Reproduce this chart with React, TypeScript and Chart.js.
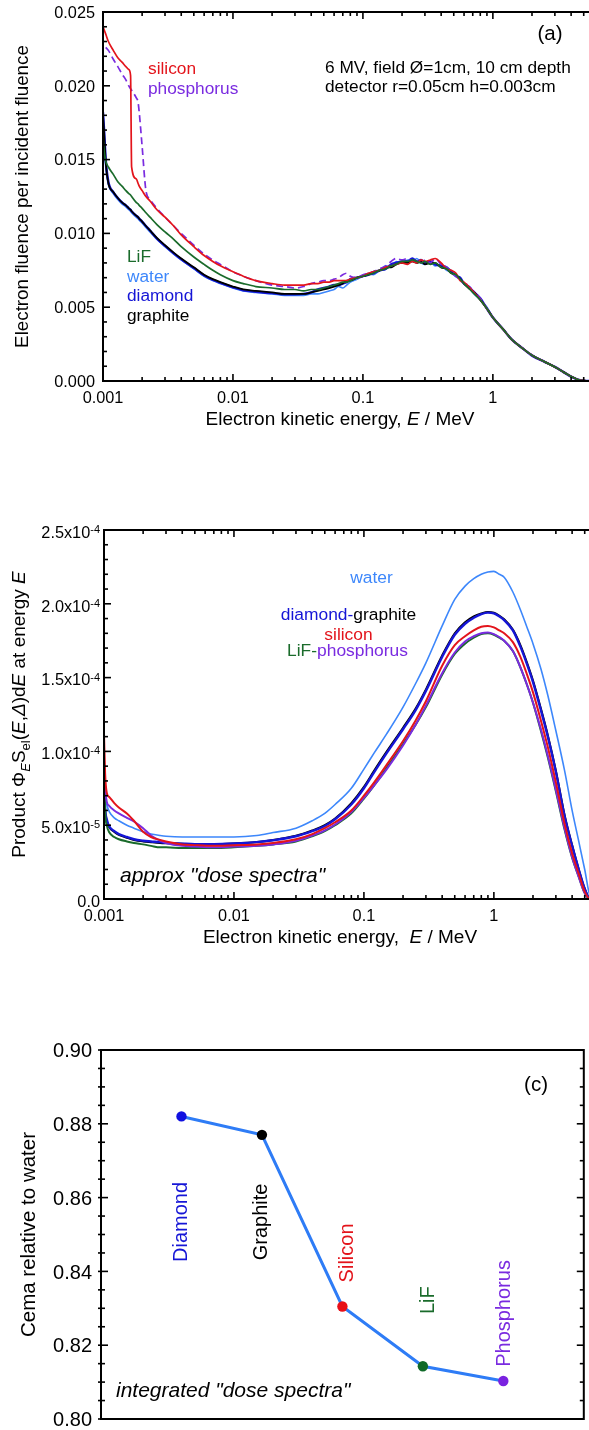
import React, { useEffect, useRef } from "react";
import { Chart, registerables } from "chart.js";
Chart.register(...registerables);

const FAMILY = '"Liberation Sans", Arial, Helvetica, sans-serif';
const font = (size: number, italic = false) => `${italic ? "italic " : ""}${size}px ${FAMILY}`;

const COLORS = {
  silicon: "#e3141b",
  phosphorus: "#7a2be0",
  lif: "#1a6b2b",
  water: "#3d87fb",
  diamond: "#1515d6",
  graphite: "#000000",
  cemaLine: "#2e7cf6",
};

// ---------------- Panel (a): electron fluence spectra ----------------
const ENERGY_A = [
  0.001, 0.00102, 0.00105, 0.0011, 0.0012, 0.0013, 0.0014, 0.0015, 0.00158, 0.00163,
  0.00166, 0.0018, 0.00186, 0.0019, 0.002, 0.00214, 0.0023, 0.0026, 0.003, 0.0035,
  0.004, 0.005, 0.006, 0.007, 0.008, 0.01, 0.012, 0.015, 0.02, 0.025,
  0.03, 0.035, 0.04, 0.045, 0.05, 0.055, 0.06, 0.065, 0.07, 0.075,
  0.08, 0.09, 0.1, 0.11, 0.12, 0.135, 0.15, 0.165, 0.18, 0.2,
  0.22, 0.24, 0.26, 0.28, 0.3, 0.33, 0.36, 0.4, 0.44, 0.48,
  0.52, 0.56, 0.6, 0.65, 0.7, 0.8, 0.9, 1.0, 1.2, 1.4,
  1.7, 2.0, 2.5, 3.0, 3.5, 4.0, 4.5, 5.0, 5.5, 6.0,
];
const GRAPHITE_A = [
  0.0180, 0.0168, 0.0148, 0.0134, 0.0128, 0.0124, 0.0121, 0.0119, 0.0117, 0.0116,
  0.0115, 0.0112, 0.0111, 0.0110, 0.0108, 0.0105, 0.0102, 0.0097, 0.0092, 0.0087,
  0.0083, 0.0077, 0.0072, 0.0069, 0.0067, 0.0064, 0.0062, 0.0061, 0.0060, 0.0059,
  0.0059, 0.0059, 0.0060, 0.0061, 0.0062, 0.0063, 0.0064, 0.0065, 0.0066, 0.0068,
  0.0068, 0.0070, 0.0071, 0.0072, 0.0074, 0.0075, 0.0077, 0.0077, 0.0079, 0.0080,
  0.0080, 0.0081, 0.0080, 0.0081, 0.0079, 0.0080, 0.0080, 0.0077, 0.0076, 0.0073,
  0.0072, 0.0069, 0.0066, 0.0063, 0.0061, 0.0055, 0.0049, 0.0043, 0.0035, 0.0028,
  0.0022, 0.00175, 0.0013, 0.00095, 0.0006, 0.0003, 0.0001, 0.00002, 0.0, 0.0,
];
const DIAMOND_A = [
  0.0182, 0.0170, 0.0150, 0.0135, 0.0128, 0.0124, 0.0121, 0.0119, 0.0117, 0.0116,
  0.0115, 0.0112, 0.0111, 0.0110, 0.0108, 0.0105, 0.0102, 0.00965, 0.00915, 0.00865,
  0.00825, 0.00765, 0.00715, 0.00685, 0.00665, 0.00635, 0.00615, 0.00605, 0.00595, 0.00588,
  0.00588, 0.0059, 0.0060, 0.0062, 0.0063, 0.0064, 0.0065, 0.0065, 0.0066, 0.0067,
  0.0069, 0.0070, 0.0071, 0.0072, 0.0073, 0.0075, 0.0076, 0.0079, 0.0080, 0.0081,
  0.0081, 0.0083, 0.0081, 0.0082, 0.0080, 0.0081, 0.0079, 0.0078, 0.0077, 0.0074,
  0.0071, 0.0070, 0.0066, 0.0064, 0.0061, 0.0056, 0.0049, 0.0043, 0.0035, 0.0028,
  0.0022, 0.00172, 0.0013, 0.00096, 0.0006, 0.0003, 0.0001, 0.00002, 0.0, 0.0,
];
const WATER_A = [
  0.0176, 0.0162, 0.0145, 0.0133, 0.0127, 0.0123, 0.0120, 0.0118, 0.0116, 0.0115,
  0.0114, 0.0111, 0.0110, 0.0109, 0.0107, 0.0104, 0.0101, 0.0096, 0.0091, 0.0086,
  0.0082, 0.0076, 0.0071, 0.0068, 0.0066, 0.0063, 0.0061, 0.0060, 0.0059, 0.0058,
  0.0058, 0.0058, 0.0059, 0.0059, 0.0060, 0.0061, 0.0062, 0.0064, 0.0063, 0.0065,
  0.0067, 0.0069, 0.0071, 0.0073, 0.0072, 0.0075, 0.0078, 0.0077, 0.0081, 0.0080,
  0.0082, 0.0081, 0.0083, 0.0080, 0.0079, 0.0081, 0.0078, 0.0079, 0.0075, 0.0074,
  0.0071, 0.0069, 0.0066, 0.0064, 0.0060, 0.0055, 0.0050, 0.0043, 0.0035, 0.0028,
  0.0022, 0.00176, 0.0013, 0.00094, 0.0006, 0.0003, 0.0001, 0.00002, 0.0, 0.0,
];
const LIF_A = [
  0.0165, 0.0156, 0.0149, 0.0145, 0.0140, 0.0135, 0.0132, 0.0129, 0.0127, 0.0126,
  0.0125, 0.0121, 0.0120, 0.0119, 0.0117, 0.0114, 0.0111, 0.0106, 0.0101, 0.0096,
  0.0091, 0.0084, 0.0079, 0.0075, 0.0072, 0.0068, 0.0066, 0.0064, 0.0063, 0.0062,
  0.0062, 0.0061, 0.0062, 0.0062, 0.0063, 0.0064, 0.0065, 0.0066, 0.0067, 0.0067,
  0.0068, 0.0070, 0.0071, 0.0072, 0.0073, 0.0075, 0.0076, 0.0078, 0.0079, 0.0081,
  0.0081, 0.0082, 0.0081, 0.0080, 0.0081, 0.0079, 0.0080, 0.0077, 0.0076, 0.0073,
  0.0072, 0.0069, 0.0066, 0.0063, 0.0060, 0.0055, 0.0049, 0.0043, 0.0035, 0.0028,
  0.0022, 0.00175, 0.0013, 0.00095, 0.0006, 0.0003, 0.0001, 0.00002, 0.0, 0.0,
];
const SILICON_A = [
  0.0240, 0.0238, 0.0235, 0.0230, 0.0224, 0.0219, 0.0216, 0.0213, 0.0211, 0.0207,
  0.0145, 0.0137, 0.0134, 0.0132, 0.0129, 0.0125, 0.0122, 0.0116, 0.0111, 0.0105,
  0.0099, 0.0091, 0.0085, 0.0081, 0.0078, 0.0074, 0.0071, 0.0068, 0.0066, 0.0065,
  0.0065, 0.0065, 0.0066, 0.0066, 0.0067, 0.0067, 0.0068, 0.0068, 0.0068, 0.0068,
  0.0069, 0.0070, 0.0071, 0.0073, 0.0074, 0.0075, 0.0077, 0.0078, 0.0079, 0.0080,
  0.0079, 0.0081, 0.0080, 0.0082, 0.0081, 0.0082, 0.0083, 0.0080, 0.0076, 0.0075,
  0.0073, 0.0068, 0.0067, 0.0064, 0.0061, 0.0055, 0.0049, 0.0043, 0.0035, 0.0028,
  0.0022, 0.00175, 0.0013, 0.00095, 0.0006, 0.0003, 0.0001, 0.00002, 0.0, 0.0,
];
const PHOSPHORUS_A = [
  null, null, 0.0226, 0.0224, 0.0218, 0.0213, 0.0208, 0.0204, 0.0200, 0.0198,
  0.0197, 0.0192, 0.0189, 0.0182, 0.0159, 0.0129, 0.0123, 0.0117, 0.0111, 0.0105,
  0.0100, 0.0092, 0.0086, 0.0082, 0.0079, 0.0074, 0.0071, 0.0068, 0.0065, 0.0064,
  0.0063, 0.0064, 0.0066, 0.0067, 0.0068, 0.0068, 0.0069, 0.0070, 0.0072, 0.0073,
  0.0071, 0.0070, 0.0072, 0.0073, 0.0074, 0.0076, 0.0078, 0.0081, 0.0083, 0.0082,
  0.0083, 0.0081, 0.0082, 0.0080, 0.0082, 0.0080, 0.0083, 0.0079, 0.0077, 0.0073,
  0.0071, 0.0068, 0.0066, 0.0065, 0.0061, 0.0056, 0.0049, 0.0043, 0.0035, 0.0028,
  0.0022, 0.00176, 0.0013, 0.00095, 0.0006, 0.0003, 0.0001, 0.00002, 0.0, 0.0,
];

// ---------------- Panel (b): product spectra ----------------
const ENERGY_B = [
  0.001, 0.00102, 0.00105, 0.0011, 0.0012, 0.0013, 0.0015, 0.0017, 0.002, 0.0023,
  0.0027, 0.003, 0.004, 0.005, 0.007, 0.01, 0.015, 0.02, 0.03, 0.04,
  0.05, 0.06, 0.08, 0.1, 0.12, 0.15, 0.2, 0.25, 0.3, 0.4,
  0.5, 0.6, 0.7, 0.8, 0.9, 1.0, 1.1, 1.2, 1.4, 1.6,
  1.8, 2.0, 2.3, 2.6, 3.0, 3.5, 4.0, 4.5, 5.0, 5.5, 6.0,
];
const WATER_B = [
  9.0e-5, 7.0e-5, 6.4e-5, 5.9e-5, 5.5e-5, 5.3e-5, 5.0e-5, 4.8e-5, 4.55e-5, 4.4e-5,
  4.3e-5, 4.25e-5, 4.2e-5, 4.2e-5, 4.2e-5, 4.2e-5, 4.3e-5, 4.5e-5, 4.8e-5, 5.3e-5,
  5.8e-5, 6.4e-5, 7.5e-5, 8.8e-5, 9.9e-5, 1.12e-4, 1.30e-4, 1.46e-4, 1.60e-4, 1.85e-4,
  2.03e-4, 2.12e-4, 2.17e-4, 2.20e-4, 2.215e-4, 2.22e-4, 2.20e-4, 2.18e-4, 2.08e-4, 1.96e-4,
  1.84e-4, 1.73e-4, 1.56e-4, 1.38e-4, 1.14e-4, 8.7e-5, 6.0e-5, 3.9e-5, 2.0e-5, 2e-6, 0,
];
const DIAMOND_B = [
  8.5e-5, 6.2e-5, 5.4e-5, 4.9e-5, 4.6e-5, 4.4e-5, 4.2e-5, 4.05e-5, 3.95e-5, 3.9e-5,
  3.85e-5, 3.8e-5, 3.75e-5, 3.72e-5, 3.72e-5, 3.76e-5, 3.85e-5, 3.98e-5, 4.25e-5, 4.6e-5,
  4.95e-5, 5.4e-5, 6.4e-5, 7.5e-5, 8.6e-5, 9.9e-5, 1.15e-4, 1.28e-4, 1.41e-4, 1.64e-4,
  1.79e-4, 1.865e-4, 1.905e-4, 1.93e-4, 1.94e-4, 1.935e-4, 1.915e-4, 1.89e-4, 1.82e-4, 1.71e-4,
  1.59e-4, 1.47e-4, 1.28e-4, 1.10e-4, 8.6e-5, 5.6e-5, 3.6e-5, 2.0e-5, 7e-6, 0, 0,
];
const GRAPHITE_B = [
  8.0e-5, 6.0e-5, 5.3e-5, 4.85e-5, 4.55e-5, 4.35e-5, 4.15e-5, 4.0e-5, 3.9e-5, 3.85e-5,
  3.8e-5, 3.78e-5, 3.74e-5, 3.72e-5, 3.72e-5, 3.76e-5, 3.86e-5, 4.0e-5, 4.28e-5, 4.64e-5,
  5.0e-5, 5.45e-5, 6.5e-5, 7.6e-5, 8.7e-5, 1.0e-4, 1.16e-4, 1.29e-4, 1.42e-4, 1.65e-4,
  1.80e-4, 1.875e-4, 1.915e-4, 1.935e-4, 1.945e-4, 1.94e-4, 1.92e-4, 1.895e-4, 1.825e-4, 1.72e-4,
  1.60e-4, 1.48e-4, 1.29e-4, 1.11e-4, 8.7e-5, 5.7e-5, 3.65e-5, 2.0e-5, 7e-6, 0, 0,
];
const SILICON_B = [
  1.12e-4, 8.5e-5, 7.2e-5, 6.9e-5, 6.5e-5, 6.2e-5, 5.8e-5, 5.3e-5, 4.55e-5, 4.2e-5,
  4.0e-5, 3.9e-5, 3.7e-5, 3.65e-5, 3.6e-5, 3.65e-5, 3.7e-5, 3.8e-5, 4.05e-5, 4.4e-5,
  4.8e-5, 5.2e-5, 6.0e-5, 7.0e-5, 7.9e-5, 9.1e-5, 1.07e-4, 1.21e-4, 1.34e-4, 1.58e-4,
  1.72e-4, 1.78e-4, 1.82e-4, 1.845e-4, 1.85e-4, 1.84e-4, 1.82e-4, 1.80e-4, 1.74e-4, 1.64e-4,
  1.52e-4, 1.40e-4, 1.21e-4, 1.03e-4, 7.9e-5, 5.1e-5, 3.1e-5, 1.7e-5, 5e-6, 0, 0,
];
const LIF_B = [
  9.5e-5, 6.0e-5, 5.0e-5, 4.5e-5, 4.2e-5, 4.05e-5, 3.9e-5, 3.8e-5, 3.7e-5, 3.6e-5,
  3.5e-5, 3.5e-5, 3.45e-5, 3.45e-5, 3.45e-5, 3.5e-5, 3.6e-5, 3.7e-5, 3.9e-5, 4.25e-5,
  4.6e-5, 5.0e-5, 5.8e-5, 6.8e-5, 7.7e-5, 8.9e-5, 1.05e-4, 1.18e-4, 1.30e-4, 1.52e-4,
  1.66e-4, 1.73e-4, 1.77e-4, 1.795e-4, 1.80e-4, 1.79e-4, 1.77e-4, 1.75e-4, 1.68e-4, 1.57e-4,
  1.45e-4, 1.33e-4, 1.14e-4, 9.6e-5, 7.3e-5, 4.7e-5, 2.8e-5, 1.5e-5, 4e-6, 0, 0,
];
const PHOSPHORUS_B = [
  9.0e-5, 7.5e-5, 6.6e-5, 6.3e-5, 6.0e-5, 5.8e-5, 5.5e-5, 5.25e-5, 4.8e-5, 4.3e-5,
  3.95e-5, 3.8e-5, 3.6e-5, 3.55e-5, 3.5e-5, 3.55e-5, 3.6e-5, 3.7e-5, 3.95e-5, 4.3e-5,
  4.65e-5, 5.05e-5, 5.9e-5, 6.85e-5, 7.7e-5, 8.8e-5, 1.04e-4, 1.18e-4, 1.31e-4, 1.53e-4,
  1.67e-4, 1.745e-4, 1.78e-4, 1.80e-4, 1.805e-4, 1.795e-4, 1.775e-4, 1.75e-4, 1.68e-4, 1.57e-4,
  1.45e-4, 1.33e-4, 1.15e-4, 9.7e-5, 7.4e-5, 4.8e-5, 2.85e-5, 1.5e-5, 4e-6, 0, 0,
];

// ---------------- Panel (c): integrated cema ----------------
const MATERIALS_C = ["Diamond", "Graphite", "Silicon", "LiF", "Phosphorus"];
const CEMA_C = [0.882, 0.877, 0.8305, 0.8143, 0.8103];
const POINT_COLORS_C = ["#1010e0", "#000000", "#e81018", "#0f6a28", "#7a22e0"];
const LABEL_COLORS_C = [COLORS.diamond, "#000000", COLORS.silicon, COLORS.lif, COLORS.phosphorus];

// tick labels
const X_TICK_VALUES = [0.001, 0.01, 0.1, 1];
const X_TICK_LABELS = ["0.001", "0.01", "0.1", "1"];
const Y_TICK_VALUES_A = [0, 0.005, 0.01, 0.015, 0.02, 0.025];
const Y_TICK_LABELS_A = ["0.000", "0.005", "0.010", "0.015", "0.020", "0.025"];
const Y_TICK_VALUES_B = [0, 5e-5, 1e-4, 1.5e-4, 2e-4, 2.5e-4];
const Y_TICK_MANT_B = ["0.0", "5.0x10", "1.0x10", "1.5x10", "2.0x10", "2.5x10"];
const Y_TICK_EXP_B = ["", "-5", "-4", "-4", "-4", "-4"];
const Y_TICK_VALUES_C = [0.8, 0.82, 0.84, 0.86, 0.88, 0.9];
const Y_TICK_LABELS_C = ["0.80", "0.82", "0.84", "0.86", "0.88", "0.90"];

// ---------------- drawing helpers ----------------
type Seg = { t: string; size: number; italic?: boolean; color?: string; dy?: number };

function drawRich(ctx: any, segs: Seg[], x: number, y: number, align: string, color = "#000") {
  ctx.textBaseline = "alphabetic";
  ctx.textAlign = "left";
  const widths = segs.map((s) => {
    ctx.font = font(s.size, s.italic);
    return ctx.measureText(s.t).width;
  });
  const total = widths.reduce((a, b) => a + b, 0);
  let cx = align === "left" ? x : align === "center" ? x - total / 2 : x - total;
  segs.forEach((s, i) => {
    ctx.font = font(s.size, s.italic);
    ctx.fillStyle = s.color ?? color;
    ctx.fillText(s.t, cx, y + (s.dy ?? 0));
    cx += widths[i];
  });
}

function drawRotated(ctx: any, segs: Seg[], baselineX: number, centerY: number, color = "#000") {
  ctx.save();
  ctx.translate(baselineX, centerY);
  ctx.rotate(-Math.PI / 2);
  drawRich(ctx, segs, 0, 0, "center", color);
  ctx.restore();
}

function line(ctx: any, x1: number, y1: number, x2: number, y2: number) {
  ctx.beginPath();
  ctx.moveTo(x1, y1);
  ctx.lineTo(x2, y2);
  ctx.stroke();
}

function drawBox(ctx: any, a: any) {
  ctx.strokeStyle = "#000";
  ctx.lineWidth = 2;
  ctx.strokeRect(a.left, a.top, a.right - a.left, a.bottom - a.top);
}

function logTicks(max: number) {
  const out: { v: number; major: boolean }[] = [];
  for (const e of [-3, -2, -1, 0]) {
    for (let m = 1; m <= 9; m++) {
      const v = Number((m * Math.pow(10, e)).toPrecision(2));
      if (v <= max) out.push({ v, major: m === 1 });
    }
  }
  return out;
}

function drawLogXTicks(ctx: any, chart: any) {
  const a = chart.chartArea;
  const xs = chart.scales.x;
  ctx.strokeStyle = "#000";
  ctx.lineWidth = 1.6;
  for (const t of logTicks(xs.max)) {
    const px = xs.getPixelForValue(t.v);
    const len = t.major ? 7 : 4;
    line(ctx, px, a.bottom, px, a.bottom - len);
    line(ctx, px, a.top, px, a.top + len);
  }
}

function drawYTicks(ctx: any, chart: any, minor: number, ratio: number, cross: boolean, right: boolean) {
  const a = chart.chartArea;
  const ys = chart.scales.y;
  ctx.strokeStyle = "#000";
  ctx.lineWidth = 1.6;
  const n = Math.round((ys.max - ys.min) / minor);
  for (let i = 0; i <= n; i++) {
    const py = ys.getPixelForValue(ys.min + i * minor);
    const major = i % ratio === 0;
    const len = major ? 7 : 4;
    line(ctx, a.left - (cross ? 3 : 0), py, a.left + len, py);
    if (right) line(ctx, a.right, py, a.right - len, py);
  }
}

function xAxisLabels(ctx: any, chart: any, gap: string) {
  const xs = chart.scales.x;
  const a = chart.chartArea;
  X_TICK_VALUES.forEach((v, i) => {
    drawRich(ctx, [{ t: X_TICK_LABELS[i], size: 16.3 }], xs.getPixelForValue(v), a.bottom + 22, "center");
  });
  drawRich(
    ctx,
    [
      { t: "Electron kinetic energy," + gap, size: 19 },
      { t: "E", size: 19, italic: true },
      { t: " / MeV", size: 19 },
    ],
    340,
    a.bottom + 44,
    "center"
  );
}

const decorA = {
  id: "decorA",
  afterDraw(chart: any) {
    const ctx = chart.ctx;
    const a = chart.chartArea;
    const ys = chart.scales.y;
    ctx.save();
    drawBox(ctx, a);
    drawLogXTicks(ctx, chart);
    drawYTicks(ctx, chart, 0.001, 5, false, false);
    Y_TICK_VALUES_A.forEach((v, i) => {
      drawRich(ctx, [{ t: Y_TICK_LABELS_A[i], size: 16.3 }], a.left - 8, ys.getPixelForValue(v) + 5.8, "right");
    });
    xAxisLabels(ctx, chart, " ");
    drawRotated(ctx, [{ t: "Electron fluence per incident fluence", size: 18.8 }], 28, (a.top + a.bottom) / 2);
    const s = 17.3;
    drawRich(ctx, [{ t: "(a)", size: 20.5 }], 550, 40, "center");
    drawRich(ctx, [{ t: "6 MV, field Ø=1cm, 10 cm depth", size: s }], 325, 73, "left");
    drawRich(ctx, [{ t: "detector r=0.05cm h=0.003cm", size: s }], 325, 92, "left");
    drawRich(ctx, [{ t: "silicon", size: s, color: COLORS.silicon }], 148, 74, "left");
    drawRich(ctx, [{ t: "phosphorus", size: s, color: COLORS.phosphorus }], 148, 94, "left");
    drawRich(ctx, [{ t: "LiF", size: s, color: COLORS.lif }], 127, 262, "left");
    drawRich(ctx, [{ t: "water", size: s, color: COLORS.water }], 127, 281.5, "left");
    drawRich(ctx, [{ t: "diamond", size: s, color: COLORS.diamond }], 127, 301, "left");
    drawRich(ctx, [{ t: "graphite", size: s, color: "#000" }], 127, 320.5, "left");
    ctx.restore();
  },
};

const decorB = {
  id: "decorB",
  afterDraw(chart: any) {
    const ctx = chart.ctx;
    const a = chart.chartArea;
    const ys = chart.scales.y;
    ctx.save();
    drawBox(ctx, a);
    drawLogXTicks(ctx, chart);
    drawYTicks(ctx, chart, 1e-5, 5, false, false);
    Y_TICK_VALUES_B.forEach((v, i) => {
      const py = ys.getPixelForValue(v);
      const right = a.left - 4;
      ctx.font = font(11);
      const ew = Y_TICK_EXP_B[i] ? ctx.measureText(Y_TICK_EXP_B[i]).width : 0;
      if (Y_TICK_EXP_B[i]) drawRich(ctx, [{ t: Y_TICK_EXP_B[i], size: 11 }], right, py + 3, "right");
      drawRich(ctx, [{ t: Y_TICK_MANT_B[i], size: 16.3 }], right - ew, py + 7.7, "right");
    });
    xAxisLabels(ctx, chart, "  ");
    const T = 19;
    const SUB = 13;
    drawRotated(
      ctx,
      [
        { t: "Product Φ", size: T },
        { t: "E", size: SUB, italic: true, dy: 5 },
        { t: "S", size: T },
        { t: "el", size: SUB, dy: 5 },
        { t: "(", size: T },
        { t: "E", size: T, italic: true },
        { t: ",", size: T },
        { t: "Δ", size: T, italic: true },
        { t: ")d", size: T },
        { t: "E", size: T, italic: true },
        { t: " at energy ", size: T },
        { t: "E", size: T, italic: true },
      ],
      25,
      (a.top + a.bottom) / 2
    );
    const s = 17.4;
    drawRich(ctx, [{ t: "water", size: s, color: COLORS.water }], 371.5, 133, "center");
    drawRich(
      ctx,
      [
        { t: "diamond-", size: s, color: COLORS.diamond },
        { t: "graphite", size: s, color: "#000" },
      ],
      348.5,
      170,
      "center"
    );
    drawRich(ctx, [{ t: "silicon", size: s, color: COLORS.silicon }], 348.5, 189.5, "center");
    drawRich(
      ctx,
      [
        { t: "LiF-", size: s, color: COLORS.lif },
        { t: "phosphorus", size: s, color: COLORS.phosphorus },
      ],
      347.5,
      206,
      "center"
    );
    drawRich(ctx, [{ t: 'approx "dose spectra"', size: 21, italic: true }], 120, 432, "left");
    ctx.restore();
  },
};

const LABEL_CENTER_C = [0.8534, 0.8534, 0.845, 0.8322, 0.8286];
const LABEL_BASE_OFFSET_C = [6, 5.5, 11, 11, 7];

const decorC = {
  id: "decorC",
  afterDraw(chart: any) {
    const ctx = chart.ctx;
    const a = chart.chartArea;
    const xs = chart.scales.x;
    const ys = chart.scales.y;
    ctx.save();
    drawBox(ctx, a);
    drawYTicks(ctx, chart, 0.005, 4, true, true);
    Y_TICK_VALUES_C.forEach((v, i) => {
      drawRich(ctx, [{ t: Y_TICK_LABELS_C[i], size: 20 }], a.left - 9, ys.getPixelForValue(v) + 7.2, "right");
    });
    drawRotated(ctx, [{ t: "Cema relative to water", size: 20.5 }], 35, (a.top + a.bottom) / 2);
    drawRich(ctx, [{ t: "(c)", size: 20.5 }], 536, 131, "center");
    drawRich(ctx, [{ t: 'integrated "dose spectra"', size: 21, italic: true }], 116, 437, "left");
    MATERIALS_C.forEach((m, i) => {
      drawRotated(
        ctx,
        [{ t: m, size: 20 }],
        xs.getPixelForValue(i + 1) + LABEL_BASE_OFFSET_C[i],
        ys.getPixelForValue(LABEL_CENTER_C[i]),
        LABEL_COLORS_C[i]
      );
    });
    ctx.restore();
  },
};

function lineDs(label: string, xs: number[], ys: (number | null)[], color: string, width: number, dash?: number[]) {
  return {
    label,
    data: xs.map((x, i) => ({ x, y: ys[i] })),
    borderColor: color,
    backgroundColor: color,
    borderWidth: width,
    borderDash: dash ?? [],
    pointRadius: 0,
    fill: false,
    cubicInterpolationMode: "monotone",
    spanGaps: false,
  };
}

const baseOptions = (padding: any, xScale: any, yScale: any) => ({
  responsive: false,
  maintainAspectRatio: false,
  animation: false,
  devicePixelRatio: 1,
  events: [],
  layout: { padding },
  plugins: { legend: { display: false }, tooltip: { enabled: false }, title: { display: false } },
  scales: { x: xScale, y: yScale },
});

const configA = () => ({
  type: "line",
  data: {
    datasets: [
      lineDs("LiF", ENERGY_A, LIF_A, COLORS.lif, 1.7),
      lineDs("silicon", ENERGY_A, SILICON_A, COLORS.silicon, 1.7),
      lineDs("phosphorus", ENERGY_A, PHOSPHORUS_A, COLORS.phosphorus, 1.7, [7, 4]),
      lineDs("graphite", ENERGY_A, GRAPHITE_A, COLORS.graphite, 1.8),
      lineDs("diamond", ENERGY_A, DIAMOND_A, COLORS.diamond, 2.4),
      lineDs("water", ENERGY_A, WATER_A, COLORS.water, 1.6),
    ],
  },
  options: baseOptions(
    { left: 103, top: 12, right: 0, bottom: 59 },
    { type: "logarithmic", min: 0.001, max: 6, display: false },
    { type: "linear", min: 0, max: 0.025, display: false }
  ),
  plugins: [decorA],
});

const configB = () => ({
  type: "line",
  data: {
    datasets: [
      lineDs("silicon", ENERGY_B, SILICON_B, COLORS.silicon, 2),
      lineDs("phosphorus", ENERGY_B, PHOSPHORUS_B, COLORS.phosphorus, 2),
      lineDs("LiF", ENERGY_B, LIF_B, COLORS.lif, 2),
      lineDs("diamond", ENERGY_B, DIAMOND_B, COLORS.diamond, 2.4),
      lineDs("graphite", ENERGY_B, GRAPHITE_B, COLORS.graphite, 2),
      lineDs("water", ENERGY_B, WATER_B, COLORS.water, 1.6),
    ],
  },
  options: baseOptions(
    { left: 104, top: 80, right: 0, bottom: 71 },
    { type: "logarithmic", min: 0.001, max: 6, display: false },
    { type: "linear", min: 0, max: 2.5e-4, display: false }
  ),
  plugins: [decorB],
});

const configC = () => ({
  type: "line",
  data: {
    datasets: [
      {
        label: "Cema relative to water",
        data: CEMA_C.map((y, i) => ({ x: i + 1, y })),
        borderColor: COLORS.cemaLine,
        borderWidth: 3,
        pointRadius: 5.2,
        pointBorderWidth: 0,
        pointBackgroundColor: POINT_COLORS_C,
        pointBorderColor: POINT_COLORS_C,
        tension: 0,
        fill: false,
      },
    ],
  },
  options: baseOptions(
    { left: 101, top: 90, right: 1, bottom: 11 },
    { type: "linear", min: 0, max: 6, display: false },
    { type: "linear", min: 0.8, max: 0.9, display: false }
  ),
  plugins: [decorC],
});

function ChartCanvas({ make, top, width, height }: any) {
  const ref = useRef<HTMLCanvasElement>(null);
  useEffect(() => {
    const chart = new Chart(ref.current as any, make());
    return () => chart.destroy();
  }, []);
  return (
    <canvas
      ref={ref}
      width={width}
      height={height}
      style={{ position: "absolute", left: 0, top, width, height, display: "block" }}
    />
  );
}

export default function App() {
  return (
    <div
      style={{
        position: "absolute",
        left: 0,
        top: 0,
        width: 589,
        height: 1430,
        overflow: "hidden",
        background: "#fff",
      }}
    >
      <ChartCanvas make={configA} top={0} width={594} height={440} />
      <ChartCanvas make={configB} top={450} width={595} height={520} />
      <ChartCanvas make={configC} top={960} width={589} height={470} />
    </div>
  );
}
